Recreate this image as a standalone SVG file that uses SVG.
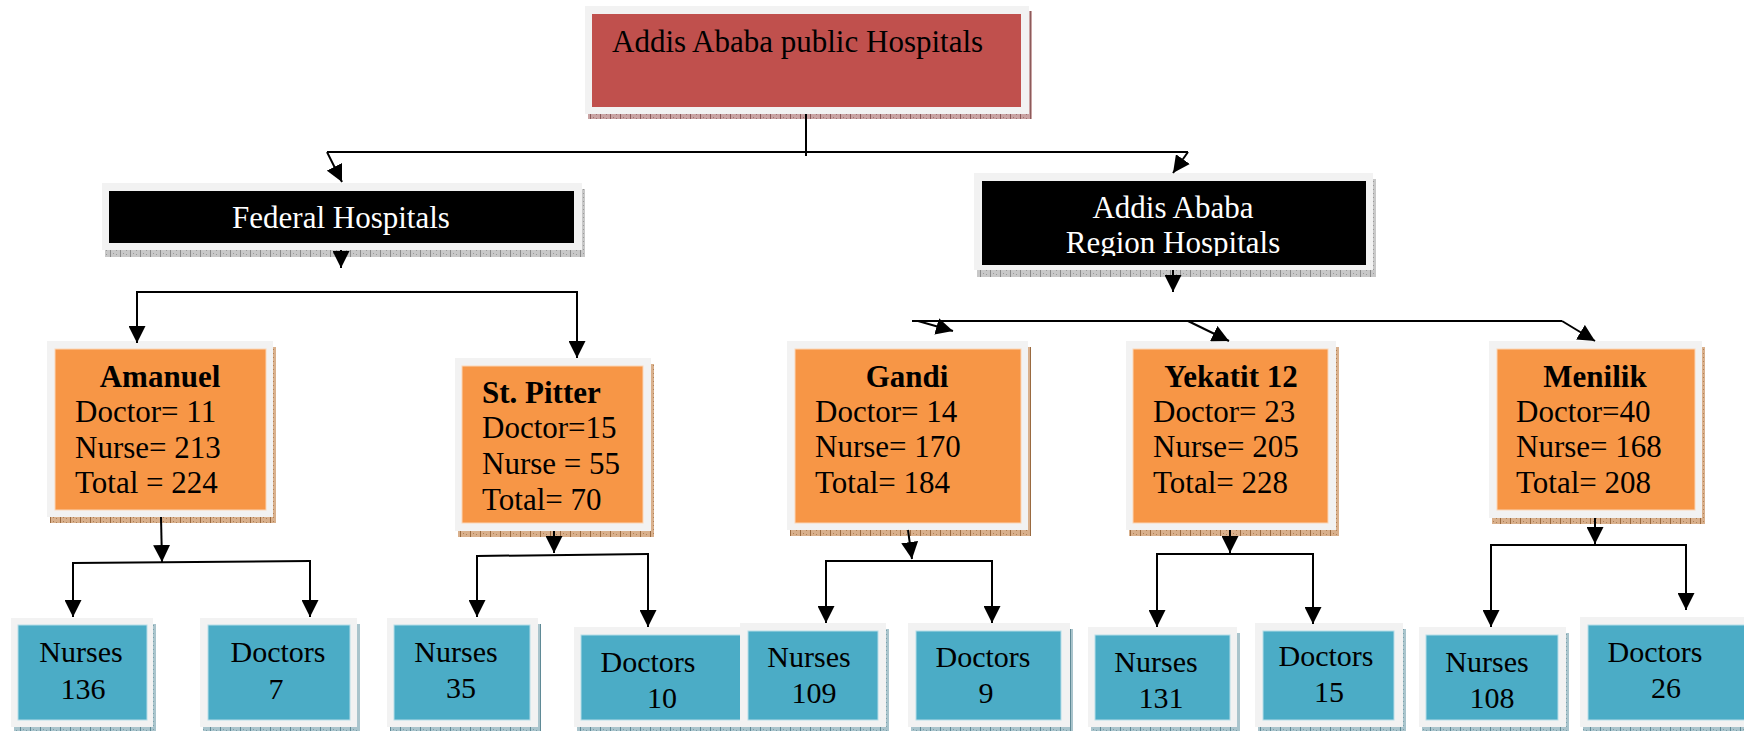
<svg xmlns="http://www.w3.org/2000/svg" width="1744" height="731" viewBox="0 0 1744 731">
<style>
.fr{fill:#f2f2f2}
.t{font-family:"Liberation Serif","Times New Roman",serif;font-size:31px;fill:#000}
.b{font-weight:bold}
.w{fill:#fff}
.m{text-anchor:middle}
.red{fill:#c0504d}
.blk{fill:#000}
.org{fill:#f79646;stroke:#fbd5b5;stroke-width:1}
.blu{fill:#4bacc6;stroke:#b6dde8;stroke-width:1}
.ln{stroke:#000;stroke-width:2;fill:none}
.ar{stroke:#000;stroke-width:2;fill:none;marker-end:url(#ah)}
.bt{font-size:30px}
</style>
<defs>
<marker id="ah" markerUnits="userSpaceOnUse" markerWidth="18" markerHeight="17" refX="17" refY="8.5" orient="auto" viewBox="0 0 18 17">
<path d="M0,0 L17,8.5 L0,17 z" fill="#000"/>
</marker>
<pattern id="pr" width="10" height="4" patternUnits="userSpaceOnUse"><rect width="10" height="4" fill="#c9a3a3"/><rect width="1" height="4" fill="#8c5a5a"/><rect x="3" y="1" width="1" height="1" fill="#9d7070"/><rect x="6" y="2" width="1" height="1" fill="#9d7070"/></pattern>
<pattern id="pg" width="10" height="4" patternUnits="userSpaceOnUse"><rect width="10" height="4" fill="#c8c8c8"/><rect width="1" height="4" fill="#8a8a8a"/><rect x="3" y="1" width="1" height="1" fill="#999"/><rect x="6" y="2" width="1" height="1" fill="#999"/></pattern>
<pattern id="po" width="10" height="4" patternUnits="userSpaceOnUse"><rect width="10" height="4" fill="#d9b08c"/><rect width="1" height="4" fill="#9a6a40"/><rect x="3" y="1" width="1" height="1" fill="#b08055"/><rect x="6" y="2" width="1" height="1" fill="#b08055"/></pattern>
<pattern id="pb" width="10" height="4" patternUnits="userSpaceOnUse"><rect width="10" height="4" fill="#a9c4cc"/><rect width="1" height="4" fill="#5f8a96"/><rect x="3" y="1" width="1" height="1" fill="#7aa0aa"/><rect x="6" y="2" width="1" height="1" fill="#7aa0aa"/></pattern>
<clipPath id="crg"><rect x="982" y="181" width="384" height="75"/></clipPath>
</defs>

<g id="top">
<rect x="588" y="11" width="444" height="108" fill="url(#pr)"/>
<rect class="fr" x="585" y="6" width="444" height="108"/>
<rect class="red" x="592" y="14" width="429" height="93"/>
<text class="t" x="612" y="52">Addis Ababa public Hospitals</text>
</g>

<g id="federal">
<rect x="105" y="189" width="480" height="68" fill="url(#pg)"/>
<rect class="fr" x="102" y="183" width="480" height="67"/>
<rect class="blk" x="109" y="191" width="465" height="52"/>
<text class="t w m" x="341" y="228">Federal Hospitals</text>
</g>

<g id="region">
<rect x="977" y="179" width="399" height="98" fill="url(#pg)"/>
<rect class="fr" x="974" y="173" width="399" height="97"/>
<rect class="blk" x="982" y="181" width="384" height="84"/>
<g clip-path="url(#crg)">
<text class="t w m" x="1173" y="218">Addis Ababa</text>
<text class="t w m" x="1173" y="253">Region Hospitals</text>
</g>
</g>

<g id="amanuel">
<rect x="50" y="347" width="226" height="176" fill="url(#po)"/>
<rect class="fr" x="47" y="341" width="226" height="176"/>
<rect class="org" x="55" y="349" width="211" height="161"/>
<text class="t b m" x="160" y="387">Amanuel</text>
<text class="t" x="75" y="422">Doctor= 11</text>
<text class="t" x="75" y="458">Nurse= 213</text>
<text class="t" x="75" y="493">Total = 224</text>
</g>

<g id="stpitter">
<rect x="458" y="364" width="196" height="173" fill="url(#po)"/>
<rect class="fr" x="455" y="358" width="196" height="173"/>
<rect class="org" x="462" y="366" width="181" height="157"/>
<text class="t b" x="482" y="403">St. Pitter</text>
<text class="t" x="482" y="438">Doctor=15</text>
<text class="t" x="482" y="474">Nurse = 55</text>
<text class="t" x="482" y="510">Total= 70</text>
</g>

<g id="gandi">
<rect x="790" y="347" width="241" height="189" fill="url(#po)"/>
<rect class="fr" x="787" y="341" width="241" height="189"/>
<rect class="org" x="795" y="349" width="226" height="174"/>
<text class="t b m" x="907" y="387">Gandi</text>
<text class="t" x="815" y="422">Doctor= 14</text>
<text class="t" x="815" y="457">Nurse= 170</text>
<text class="t" x="815" y="493">Total= 184</text>
</g>

<g id="yekatit">
<rect x="1129" y="347" width="210" height="189" fill="url(#po)"/>
<rect class="fr" x="1126" y="341" width="210" height="189"/>
<rect class="org" x="1133" y="349" width="195" height="174"/>
<text class="t b m" x="1231" y="387">Yekatit 12</text>
<text class="t" x="1153" y="422">Doctor= 23</text>
<text class="t" x="1153" y="457">Nurse= 205</text>
<text class="t" x="1153" y="493">Total= 228</text>
</g>

<g id="menilik">
<rect x="1492" y="347" width="213" height="177" fill="url(#po)"/>
<rect class="fr" x="1489" y="341" width="213" height="177"/>
<rect class="org" x="1497" y="349" width="198" height="161"/>
<text class="t b m" x="1595" y="387">Menilik</text>
<text class="t" x="1516" y="422">Doctor=40</text>
<text class="t" x="1516" y="457">Nurse= 168</text>
<text class="t" x="1516" y="493">Total= 208</text>
</g>

<g id="amanuel-nurses">
<rect x="14" y="624" width="142" height="110" fill="url(#pb)"/>
<rect class="fr" x="11" y="618" width="142" height="109"/>
<rect class="blu" x="18" y="625" width="129" height="95"/>
<text class="t bt m" x="81" y="662">Nurses</text>
<text class="t bt m" x="83" y="699">136</text>
</g>
<g id="amanuel-doctors">
<rect x="203" y="624" width="157" height="110" fill="url(#pb)"/>
<rect class="fr" x="200" y="618" width="157" height="109"/>
<rect class="blu" x="208" y="625" width="142" height="95"/>
<text class="t bt m" x="278" y="662">Doctors</text>
<text class="t bt m" x="276" y="699">7</text>
</g>
<g id="stpitter-nurses">
<rect x="390" y="624" width="151" height="110" fill="url(#pb)"/>
<rect class="fr" x="387" y="618" width="151" height="109"/>
<rect class="blu" x="394" y="625" width="136" height="95"/>
<text class="t bt m" x="456" y="662">Nurses</text>
<text class="t bt m" x="461" y="698">35</text>
</g>
<g id="stpitter-doctors">
<rect x="577" y="633" width="174" height="101" fill="url(#pb)"/>
<rect class="fr" x="574" y="627" width="174" height="100"/>
<rect class="blu" x="581" y="635" width="160" height="85"/>
<text class="t bt m" x="648" y="672">Doctors</text>
<text class="t bt m" x="662" y="708">10</text>
</g>
<g id="gandi-nurses">
<rect x="743" y="629" width="146" height="105" fill="url(#pb)"/>
<rect class="fr" x="740" y="623" width="146" height="104"/>
<rect class="blu" x="748" y="631" width="130" height="89"/>
<text class="t bt m" x="809" y="667">Nurses</text>
<text class="t bt m" x="814" y="703">109</text>
</g>
<g id="gandi-doctors">
<rect x="911" y="629" width="162" height="105" fill="url(#pb)"/>
<rect class="fr" x="908" y="623" width="162" height="104"/>
<rect class="blu" x="916" y="631" width="145" height="89"/>
<text class="t bt m" x="983" y="667">Doctors</text>
<text class="t bt m" x="986" y="703">9</text>
</g>
<g id="yekatit-nurses">
<rect x="1091" y="633" width="149" height="101" fill="url(#pb)"/>
<rect class="fr" x="1088" y="627" width="149" height="100"/>
<rect class="blu" x="1095" y="635" width="135" height="85"/>
<text class="t bt m" x="1156" y="672">Nurses</text>
<text class="t bt m" x="1161" y="708">131</text>
</g>
<g id="yekatit-doctors">
<rect x="1258" y="629" width="148" height="105" fill="url(#pb)"/>
<rect class="fr" x="1255" y="623" width="148" height="104"/>
<rect class="blu" x="1263" y="631" width="131" height="89"/>
<text class="t bt m" x="1326" y="666">Doctors</text>
<text class="t bt m" x="1329" y="702">15</text>
</g>
<g id="menilik-nurses">
<rect x="1422" y="633" width="147" height="101" fill="url(#pb)"/>
<rect class="fr" x="1419" y="627" width="147" height="100"/>
<rect class="blu" x="1426" y="635" width="132" height="85"/>
<text class="t bt m" x="1487" y="672">Nurses</text>
<text class="t bt m" x="1492" y="708">108</text>
</g>
<g id="menilik-doctors">
<rect x="1583" y="623" width="180" height="111" fill="url(#pb)"/>
<rect class="fr" x="1580" y="617" width="180" height="110"/>
<rect class="blu" x="1588" y="625" width="164" height="95"/>
<text class="t bt m" x="1655" y="662">Doctors</text>
<text class="t bt m" x="1666" y="698">26</text>
</g>

<g id="connectors">
<line class="ln" x1="806" y1="114" x2="806" y2="156"/>
<line class="ln" x1="327" y1="152" x2="1188" y2="152"/>
<line class="ar" x1="327" y1="152" x2="342" y2="182"/>
<line class="ar" x1="1188" y1="152" x2="1173" y2="173"/>

<line class="ar" x1="341" y1="250" x2="341" y2="268"/>
<line class="ln" x1="137" y1="292" x2="577" y2="292"/>
<line class="ar" x1="137" y1="291" x2="137" y2="343"/>
<line class="ar" x1="577" y1="291" x2="577" y2="358"/>

<line class="ar" x1="1173" y1="270" x2="1173" y2="292"/>
<line class="ln" x1="912" y1="321" x2="1562" y2="321"/>
<line class="ar" x1="918" y1="321" x2="953" y2="331"/>
<line class="ar" x1="1188" y1="321" x2="1229" y2="341"/>
<line class="ar" x1="1562" y1="321" x2="1595" y2="341"/>

<line class="ar" x1="161" y1="517" x2="162" y2="562"/>
<line class="ln" x1="73" y1="563" x2="310" y2="561"/>
<line class="ar" x1="73" y1="562" x2="73" y2="617"/>
<line class="ar" x1="310" y1="560" x2="310" y2="617"/>

<line class="ar" x1="554" y1="531" x2="554" y2="553"/>
<line class="ln" x1="477" y1="556" x2="648" y2="554"/>
<line class="ar" x1="477" y1="555" x2="477" y2="617"/>
<line class="ar" x1="648" y1="553" x2="648" y2="627"/>

<line class="ar" x1="908" y1="530" x2="912" y2="559"/>
<line class="ln" x1="826" y1="561" x2="992" y2="561"/>
<line class="ar" x1="826" y1="560" x2="826" y2="623"/>
<line class="ar" x1="992" y1="560" x2="992" y2="623"/>

<line class="ar" x1="1230" y1="530" x2="1230" y2="553"/>
<line class="ln" x1="1157" y1="554" x2="1313" y2="554"/>
<line class="ar" x1="1157" y1="553" x2="1157" y2="627"/>
<line class="ar" x1="1313" y1="553" x2="1313" y2="624"/>

<line class="ar" x1="1595" y1="518" x2="1595" y2="544"/>
<line class="ln" x1="1491" y1="545" x2="1686" y2="545"/>
<line class="ar" x1="1491" y1="544" x2="1491" y2="627"/>
<line class="ar" x1="1686" y1="544" x2="1686" y2="610"/>
</g>
</svg>
